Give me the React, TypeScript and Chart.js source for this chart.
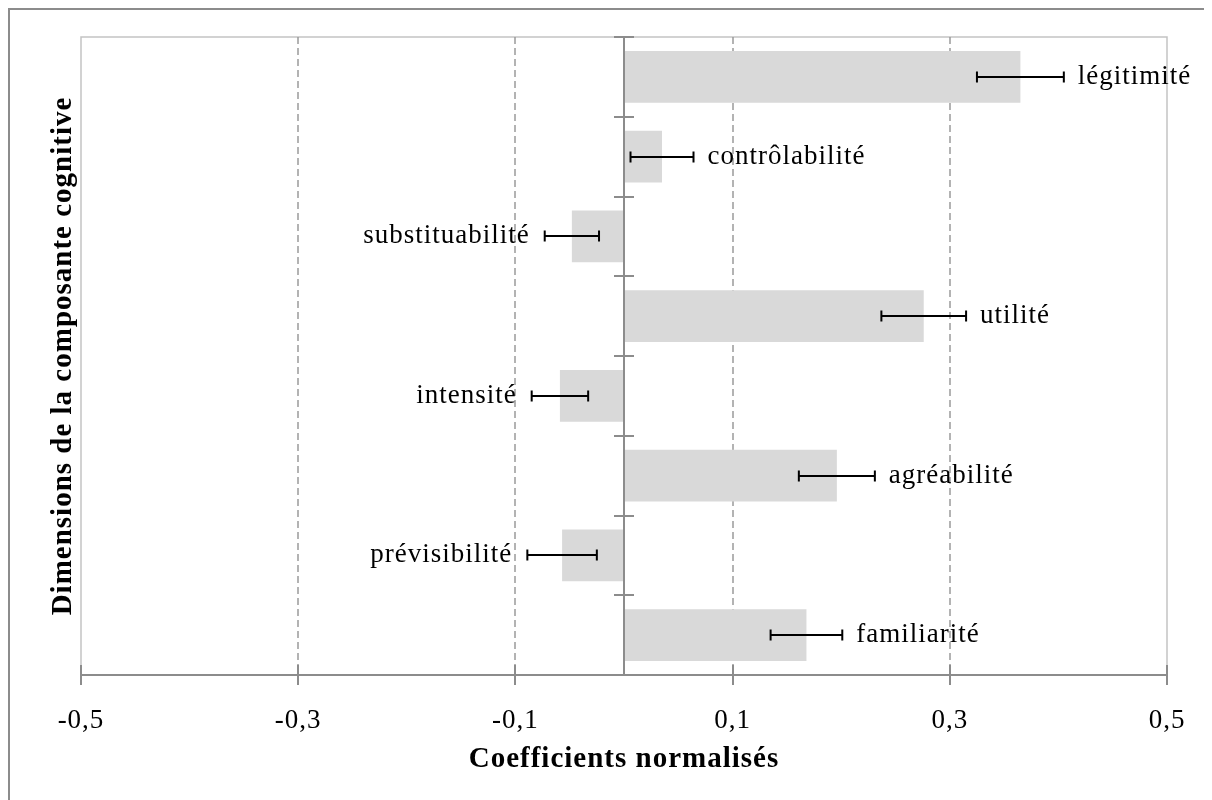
import React, { useEffect, useRef } from "react";
import { Chart, registerables } from "chart.js";

Chart.register(...registerables);

const CATEGORIES = [
  "légitimité",
  "contrôlabilité",
  "substituabilité",
  "utilité",
  "intensité",
  "agréabilité",
  "prévisibilité",
  "familiarité",
];
const COEFFICIENTS = [0.365, 0.035, -0.048, 0.276, -0.059, 0.196, -0.057, 0.168];
const ERRORS = [0.04, 0.029, 0.025, 0.039, 0.026, 0.035, 0.032, 0.033];
const X_TICKS = [-0.5, -0.3, -0.1, 0.1, 0.3, 0.5];
const X_MIN = -0.5;
const X_MAX = 0.5;
const X_TITLE = "Coefficients normalisés";
const Y_TITLE = "Dimensions de la composante cognitive";

const FONT = '"Liberation Serif", "Times New Roman", serif';

const spacingPlugin = {
  id: "spacing",
  beforeDraw(chart: any) {
    (chart.ctx as any).letterSpacing = "1px";
  },
};

const decorPlugin = {
  id: "decor",
  beforeDatasetsDraw(chart: any) {
    const { ctx, chartArea: a, scales } = chart;
    const x = scales.x;
    ctx.save();
    ctx.strokeStyle = "#c3c3c3";
    ctx.lineWidth = 1.5;
    ctx.beginPath();
    ctx.moveTo(a.left, a.bottom);
    ctx.lineTo(a.left, a.top);
    ctx.lineTo(a.right, a.top);
    ctx.lineTo(a.right, a.bottom);
    ctx.stroke();
    ctx.strokeStyle = "#9a9a9a";
    ctx.lineWidth = 1.5;
    ctx.setLineDash([7, 4]);
    for (const t of X_TICKS) {
      if (t === X_MIN || t === X_MAX) continue;
      const px = Math.round(x.getPixelForValue(t));
      ctx.beginPath();
      ctx.moveTo(px, a.top);
      ctx.lineTo(px, a.bottom);
      ctx.stroke();
    }
    ctx.restore();
  },
  afterDatasetsDraw(chart: any) {
    const { ctx, chartArea: a, scales } = chart;
    const x = scales.x;
    const y = scales.y;
    ctx.save();
    const zx = Math.round(x.getPixelForValue(0));
    ctx.strokeStyle = "#8c8c8c";
    ctx.lineWidth = 2;
    ctx.beginPath();
    ctx.moveTo(zx, a.top);
    ctx.lineTo(zx, a.bottom);
    ctx.stroke();
    for (let i = 0; i <= CATEGORIES.length; i++) {
      const by = Math.round(y.getPixelForValue(i - 0.5));
      ctx.beginPath();
      ctx.moveTo(zx - 10, by);
      ctx.lineTo(zx + 10, by);
      ctx.stroke();
    }
    ctx.beginPath();
    ctx.moveTo(a.left, a.bottom);
    ctx.lineTo(a.right, a.bottom);
    ctx.stroke();
    for (const t of X_TICKS) {
      const px = Math.round(x.getPixelForValue(t));
      ctx.beginPath();
      ctx.moveTo(px, a.bottom - 10);
      ctx.lineTo(px, a.bottom + 10);
      ctx.stroke();
    }
    ctx.font = "27px " + FONT;
    (ctx as any).letterSpacing = "1px";
    ctx.fillStyle = "#000";
    ctx.textBaseline = "middle";
    CATEGORIES.forEach((name, i) => {
      const v = COEFFICIENTS[i];
      const e = ERRORS[i];
      const cy = Math.round(y.getPixelForValue(i));
      const x1 = x.getPixelForValue(v - e);
      const x2 = x.getPixelForValue(v + e);
      ctx.strokeStyle = "#000";
      ctx.lineWidth = 2;
      ctx.beginPath();
      ctx.moveTo(x1, cy);
      ctx.lineTo(x2, cy);
      ctx.moveTo(x1, cy - 5.5);
      ctx.lineTo(x1, cy + 5.5);
      ctx.moveTo(x2, cy - 5.5);
      ctx.lineTo(x2, cy + 5.5);
      ctx.stroke();
      if (v >= 0) {
        ctx.textAlign = "left";
        ctx.fillText(name, x2 + 14, cy);
      } else {
        ctx.textAlign = "right";
        ctx.fillText(name, x1 - 15, cy);
      }
    });
    ctx.restore();
  },
};

export default function App() {
  const ref = useRef<HTMLCanvasElement | null>(null);
  useEffect(() => {
    if (!ref.current) return;
    const chart = new Chart(ref.current, {
      type: "bar",
      data: {
        labels: CATEGORIES,
        datasets: [
          {
            data: COEFFICIENTS,
            backgroundColor: "#d9d9d9",
            borderWidth: 0,
            barPercentage: 0.647,
            categoryPercentage: 1,
          },
        ],
      },
      options: {
        indexAxis: "y",
        responsive: false,
        animation: false,
        layout: { padding: { top: 27, right: 45, bottom: 0, left: 0 } },
        plugins: { legend: { display: false }, tooltip: { enabled: false } },
        scales: {
          x: {
            type: "linear",
            min: X_MIN,
            max: X_MAX,
            afterBuildTicks: (s: any) => {
              s.ticks = X_TICKS.map((v) => ({ value: v }));
            },
            afterFit: (s: any) => {
              s.height = 125;
              s.paddingLeft = 0;
              s.paddingRight = 0;
            },
            grid: { display: false, drawTicks: false },
            border: { display: false },
            ticks: {
              color: "#000",
              font: { family: FONT, size: 27 },
              padding: 30,
              maxRotation: 0,
              autoSkip: false,
              callback: (v: any) => Number(v).toFixed(1).replace(".", ","),
            },
            title: {
              display: true,
              text: X_TITLE,
              color: "#000",
              font: { family: FONT, size: 29, weight: "bold" },
              padding: { top: 0, bottom: 23 },
            },
          },
          y: {
            type: "category",
            afterFit: (s: any) => {
              s.width = 71;
            },
            grid: { display: false, drawTicks: false },
            border: { display: false },
            ticks: { display: false },
            title: {
              display: true,
              text: Y_TITLE,
              color: "#000",
              font: { family: FONT, size: 29, weight: "bold" },
              padding: { top: 36, bottom: 0 },
            },
          },
        },
      },
      plugins: [spacingPlugin, decorPlugin],
    } as any);
    return () => chart.destroy();
  }, []);
  return (
    <div
      style={{
        width: 1204,
        height: 792,
        boxSizing: "border-box",
        borderTop: "2px solid #8c8c8c",
        borderLeft: "2px solid #8c8c8c",
      }}
    >
      <canvas ref={ref} width={1202} height={790} style={{ display: "block" }} />
    </div>
  );
}
